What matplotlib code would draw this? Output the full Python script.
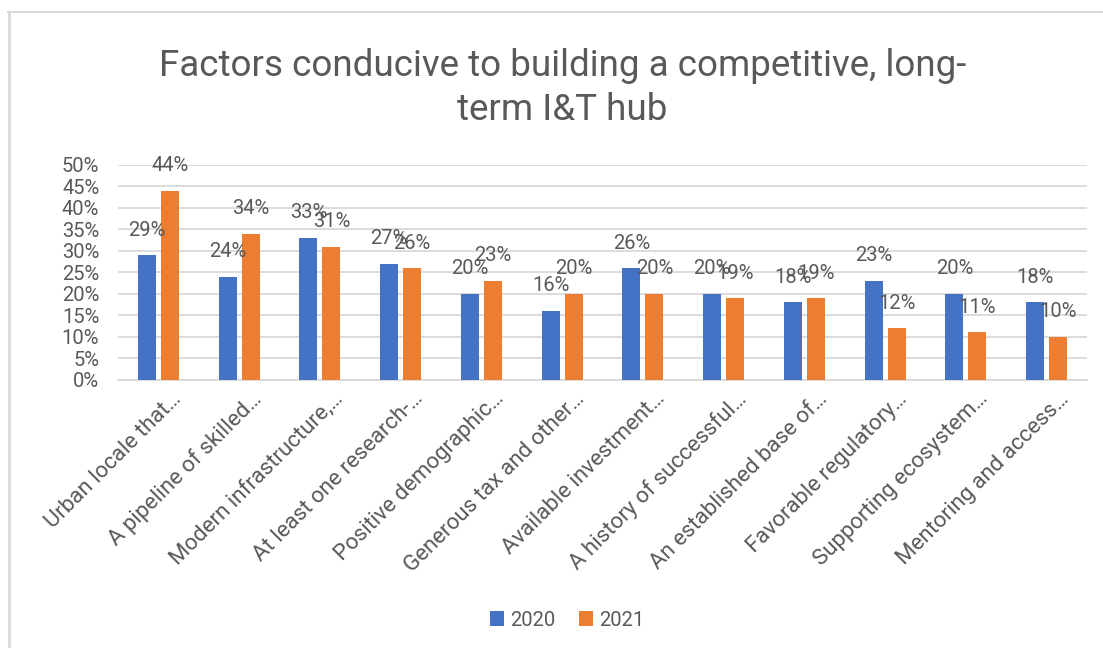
import matplotlib
matplotlib.use("Agg")
import matplotlib.pyplot as plt
from matplotlib.lines import Line2D
from matplotlib.ticker import MultipleLocator, FuncFormatter
import matplotlib.transforms as mtrans
import numpy as np

categories = [
    "Urban locale that…", "A pipeline of skilled…", "Modern infrastructure,…",
    "At least one research-…", "Positive demographic…", "Generous tax and other…",
    "Available investment…", "A history of successful…", "An established base of…",
    "Favorable regulatory…", "Supporting ecosystem…", "Mentoring and access…",
]
series_names = ["2020", "2021"]
values_2020 = [29, 24, 33, 27, 20, 16, 26, 20, 18, 23, 20, 18]
values_2021 = [44, 34, 31, 26, 23, 20, 20, 19, 19, 12, 11, 10]
title = "Factors conducive to building a competitive, long-\nterm I&T hub"

plt.rcParams['font.family'] = ["Roboto", "DejaVu Sans"]

TXT = "#595959"
BLUE = "#4472C4"
ORANGE = "#ED7D31"

fig = plt.figure(figsize=(11.03, 6.48), dpi=100)
ax = fig.add_axes([118/1103, 1-379.5/648, (1087-118)/1103, (379.5-165)/648])

x = np.arange(len(categories))
w = 0.223
off = 0.1425
b1 = ax.bar(x - off, values_2020, w, color=BLUE, label=series_names[0], zorder=3)
b2 = ax.bar(x + off, values_2021, w, color=ORANGE, label=series_names[1], zorder=3)

fs = 14.5
for bars, vals in ((b1, values_2020), (b2, values_2021)):
    for r, v in zip(bars, vals):
        ax.annotate(f"{v}%", (r.get_x() + r.get_width()/2, v), xytext=(0, 14),
                    textcoords="offset points", ha="center", va="baseline",
                    fontsize=fs, color=TXT, zorder=4)

ax.set_xlim(-0.5, len(categories) - 0.5)
ax.set_ylim(0, 50)
ax.yaxis.set_major_locator(MultipleLocator(5))
ax.yaxis.set_major_formatter(FuncFormatter(lambda v, p: f"{int(v)}%"))
ax.grid(axis="y", color="#D9D9D9", linewidth=1.3, zorder=0)
for s in ("top", "right", "left"):
    ax.spines[s].set_visible(False)
ax.spines["bottom"].set_color("#D9D9D9")
ax.spines["bottom"].set_linewidth(1.3)
ax.tick_params(axis="both", length=0, labelsize=fs, colors=TXT)
ax.tick_params(axis="y", pad=13.5)
ax.set_xticks(x)
ax.set_xticklabels(categories, rotation=45, ha="right", rotation_mode="anchor",
                   fontsize=16, color=TXT)
for lbl in ax.get_xticklabels():
    lbl.set_transform(lbl.get_transform() + mtrans.ScaledTranslation(12/100, -4/100, fig.dpi_scale_trans))

fig.text(0.51, 1-120/648, title, ha="center", va="baseline", fontsize=26.5, color=TXT,
         linespacing=1.3)

ax.legend(loc="center", bbox_to_anchor=(567/1103, 1-620/648), bbox_transform=fig.transFigure,
          ncol=2, frameon=False, fontsize=fs, labelcolor=TXT, handlelength=0.7,
          handleheight=0.7, handletextpad=0.3, columnspacing=1.2)

fig.add_artist(Line2D([8/1103, 1], [1-11.5/648]*2, transform=fig.transFigure, color="#D9D9D9", lw=1.5))
fig.add_artist(Line2D([8.5/1103]*2, [0, 1-11.5/648], transform=fig.transFigure, color="#D9D9D9", lw=2))

fig.savefig("out.png", dpi=100)
